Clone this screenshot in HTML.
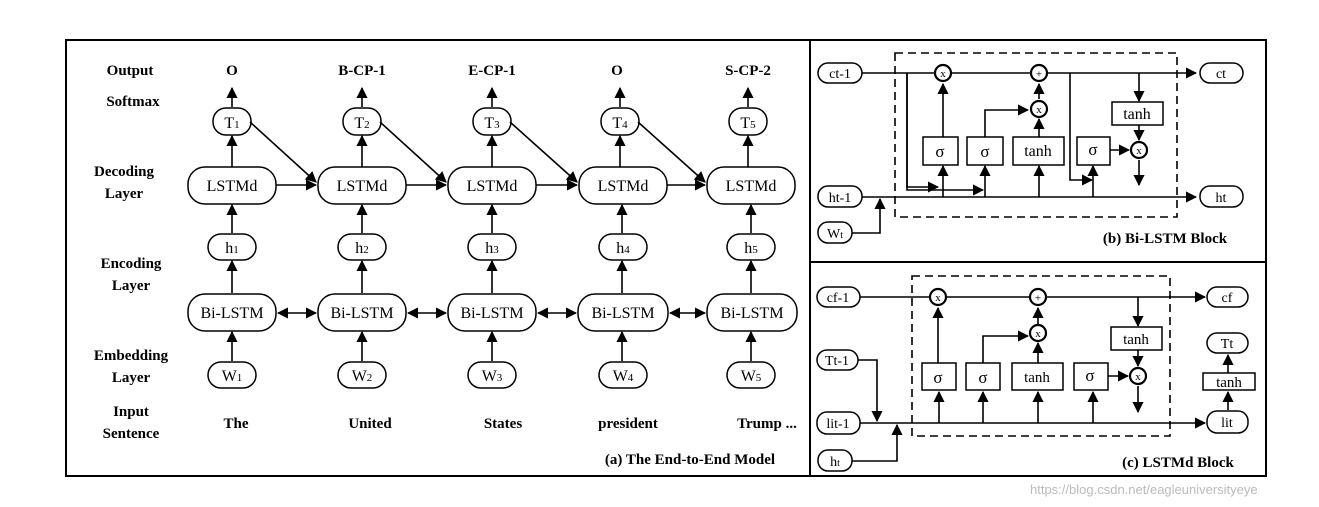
<!DOCTYPE html>
<html><head><meta charset="utf-8"><style>
body{margin:0;background:#fff}
svg{display:block}
text{font-family:"Liberation Serif",serif;fill:#000}
.b{font-weight:bold;font-size:15px}
.n{font-size:16px}
</style></head><body>
<svg width="1319" height="507" viewBox="0 0 1319 507" xmlns="http://www.w3.org/2000/svg">
<defs><marker id="a" viewBox="0 0 10 10" refX="9" refY="5" markerWidth="7" markerHeight="7" orient="auto-start-reverse"><path d="M0,0L10,5L0,10z" fill="#000"/></marker></defs>
<g fill="none" stroke="#000" stroke-width="2">
<rect x="66" y="40" width="744" height="436"/>
<rect x="810" y="40" width="456" height="222"/>
<rect x="810" y="262" width="456" height="214"/>
</g>
<g class="b" text-anchor="middle">
<text x="130" y="75">Output</text>
<text x="133" y="106">Softmax</text>
<text x="124" y="176">Decoding</text><text x="124" y="198">Layer</text>
<text x="131" y="268">Encoding</text><text x="131" y="290">Layer</text>
<text x="131" y="360">Embedding</text><text x="131" y="382">Layer</text>
<text x="131" y="416">Input</text><text x="131" y="438">Sentence</text>
<text x="232" y="75">O</text><text x="362" y="75">B-CP-1</text><text x="492" y="75">E-CP-1</text><text x="617" y="75">O</text><text x="748" y="75">S-CP-2</text>
<text x="236" y="428">The</text><text x="370" y="428">United</text><text x="503" y="428">States</text><text x="628" y="428">president</text><text x="767" y="428">Trump ...</text>
<text x="690" y="464">(a) The End-to-End Model</text>
<text x="1165" y="243">(b) Bi-LSTM Block</text>
<text x="1178" y="467">(c) LSTMd Block</text>
</g>
<!-- panel a shapes -->
<g fill="#fff" stroke="#000" stroke-width="1.5">
<rect x="213" y="108" width="38" height="27" rx="13"/><rect x="343" y="108" width="38" height="27" rx="13"/><rect x="473" y="108" width="38" height="27" rx="13"/><rect x="601" y="108" width="38" height="27" rx="13"/><rect x="729" y="108" width="38" height="27" rx="13"/>
<rect x="188" y="167" width="88" height="37" rx="17"/><rect x="318" y="167" width="88" height="37" rx="17"/><rect x="448" y="167" width="88" height="37" rx="17"/><rect x="579" y="167" width="88" height="37" rx="17"/><rect x="707" y="167" width="88" height="37" rx="17"/>
<rect x="208" y="234" width="48" height="26" rx="13"/><rect x="338" y="234" width="48" height="26" rx="13"/><rect x="468" y="234" width="48" height="26" rx="13"/><rect x="599" y="234" width="48" height="26" rx="13"/><rect x="727" y="234" width="48" height="26" rx="13"/>
<rect x="188" y="294" width="88" height="37" rx="17"/><rect x="318" y="294" width="88" height="37" rx="17"/><rect x="448" y="294" width="88" height="37" rx="17"/><rect x="578" y="294" width="90" height="37" rx="17"/><rect x="707" y="294" width="90" height="37" rx="17"/>
<rect x="208" y="362" width="48" height="26" rx="13"/><rect x="338" y="362" width="48" height="26" rx="13"/><rect x="468" y="362" width="48" height="26" rx="13"/><rect x="599" y="362" width="48" height="26" rx="13"/><rect x="727" y="362" width="48" height="26" rx="13"/>
</g>
<g stroke="#000" stroke-width="1.6" marker-end="url(#a)" fill="none">
<path d="M232 107V88"/><path d="M362 107V88"/><path d="M492 107V88"/><path d="M620 107V88"/><path d="M748 107V88"/>
<path d="M232 167V136"/><path d="M362 167V136"/><path d="M492 167V136"/><path d="M620 167V136"/><path d="M748 167V136"/>
<path d="M232 233V205"/><path d="M362 233V205"/><path d="M492 233V205"/><path d="M622 233V205"/><path d="M751 233V205"/>
<path d="M232 293V261"/><path d="M362 293V261"/><path d="M492 293V261"/><path d="M622 293V261"/><path d="M751 293V261"/>
<path d="M232 361V332"/><path d="M362 361V332"/><path d="M492 361V332"/><path d="M622 361V332"/><path d="M751 361V332"/>
<path d="M276 185H316"/><path d="M406 185H446"/><path d="M536 185H577"/><path d="M667 185H705"/>
<path d="M250 122L316 182"/><path d="M380 122L446 182"/><path d="M510 122L577 182"/><path d="M638 122L705 182"/>
<path d="M278 313H316" marker-start="url(#a)"/><path d="M408 313H446" marker-start="url(#a)"/><path d="M538 313H576" marker-start="url(#a)"/><path d="M670 313H705" marker-start="url(#a)"/>
</g>
<g class="n" text-anchor="middle">
<text x="232" y="128">T<tspan font-size="11">1</tspan></text><text x="362" y="128">T<tspan font-size="11">2</tspan></text><text x="492" y="128">T<tspan font-size="11">3</tspan></text><text x="620" y="128">T<tspan font-size="11">4</tspan></text><text x="748" y="128">T<tspan font-size="11">5</tspan></text>
<text x="232" y="191">LSTMd</text><text x="362" y="191">LSTMd</text><text x="492" y="191">LSTMd</text><text x="623" y="191">LSTMd</text><text x="751" y="191">LSTMd</text>
<text x="232" y="253">h<tspan font-size="11">1</tspan></text><text x="362" y="253">h<tspan font-size="11">2</tspan></text><text x="492" y="253">h<tspan font-size="11">3</tspan></text><text x="623" y="253">h<tspan font-size="11">4</tspan></text><text x="751" y="253">h<tspan font-size="11">5</tspan></text>
<text x="232" y="318">Bi-LSTM</text><text x="362" y="318">Bi-LSTM</text><text x="492" y="318">Bi-LSTM</text><text x="623" y="318">Bi-LSTM</text><text x="752" y="318">Bi-LSTM</text>
<text x="232" y="381">W<tspan font-size="11">1</tspan></text><text x="362" y="381">W<tspan font-size="11">2</tspan></text><text x="492" y="381">W<tspan font-size="11">3</tspan></text><text x="623" y="381">W<tspan font-size="11">4</tspan></text><text x="751" y="381">W<tspan font-size="11">5</tspan></text>
</g>

<!-- panel b -->
<rect x="895" y="53" width="282" height="164" fill="none" stroke="#000" stroke-width="1.6" stroke-dasharray="8,5"/>
<g fill="#fff" stroke="#000" stroke-width="1.5">
<rect x="818" y="63" width="44" height="20" rx="10"/><rect x="1200" y="63" width="43" height="20" rx="10"/>
<rect x="818" y="186" width="44" height="21" rx="10"/><rect x="1200" y="186" width="43" height="21" rx="10"/>
<rect x="818" y="222" width="34" height="21" rx="10"/>
<rect x="923" y="137" width="35" height="28"/><rect x="967" y="137" width="36" height="28"/><rect x="1013" y="137" width="51" height="28"/><rect x="1077" y="137" width="33" height="28"/><rect x="1112" y="102" width="51" height="23"/>
</g>
<g stroke="#000" stroke-width="1.6" fill="none" marker-end="url(#a)">
<path d="M862 73H1196"/>
<path d="M862 197H1196"/>
<path d="M852 233H880V199"/>
<path d="M907 73V187H938"/>
<path d="M907 73V190H983"/>
<path d="M1070 73V180H1092"/>
<path d="M943 137V84"/><path d="M943 197V166"/><path d="M985 197V166"/><path d="M1039 197V166"/><path d="M1093 197V166"/>
<path d="M985 137V110H1028"/>
<path d="M1039 137V119"/><path d="M1039 99V84"/><path d="M1110 150H1129"/><path d="M1139 73V101"/><path d="M1139 125V140"/><path d="M1139 160V185"/>
</g>
<g fill="#fff" stroke="#000" stroke-width="2.2"><circle cx="943" cy="73" r="8"/><circle cx="1039" cy="73" r="8"/><circle cx="1039" cy="109" r="8"/><circle cx="1139" cy="150" r="8"/></g>
<g font-size="11" text-anchor="middle"><text x="943" y="77">x</text><text x="1039" y="77.5">+</text><text x="1039" y="113">x</text><text x="1139" y="154">x</text></g>
<g class="n" text-anchor="middle" font-size="15">
<text x="840" y="78" font-size="14">ct-1</text><text x="1221" y="78" font-size="14">ct</text><text x="840" y="202" font-size="14">ht-1</text><text x="1221" y="202" font-size="14">ht</text><text x="835" y="238" font-size="14">W<tspan font-size="10">t</tspan></text>
<text x="940" y="157" font-size="17">σ</text><text x="985" y="157" font-size="17">σ</text><text x="1038" y="156">tanh</text><text x="1093" y="155" font-size="17">σ</text><text x="1137" y="119">tanh</text>
</g>

<!-- panel c -->
<rect x="912" y="276" width="258" height="160" fill="none" stroke="#000" stroke-width="1.6" stroke-dasharray="8,5"/>
<g fill="#fff" stroke="#000" stroke-width="1.5">
<rect x="817" y="287" width="43" height="20" rx="10"/><rect x="1207" y="287" width="41" height="20" rx="10"/>
<rect x="817" y="350" width="41" height="20" rx="10"/>
<rect x="817" y="412" width="43" height="22" rx="10"/><rect x="1207" y="411" width="41" height="22" rx="10"/>
<rect x="818" y="450" width="34" height="21" rx="10"/>
<rect x="1207" y="333" width="41" height="20" rx="10"/>
<rect x="1203" y="373" width="52" height="17"/>
<rect x="922" y="363" width="34" height="27"/><rect x="966" y="363" width="34" height="27"/><rect x="1012" y="363" width="51" height="27"/><rect x="1074" y="363" width="34" height="27"/><rect x="1111" y="327" width="51" height="23"/>
</g>
<g stroke="#000" stroke-width="1.6" fill="none" marker-end="url(#a)">
<path d="M860 297H1205"/>
<path d="M860 423H1205"/>
<path d="M858 360H877V421"/>
<path d="M852 461H897V425"/>
<path d="M938 363V308"/><path d="M939 423V392"/><path d="M983 423V392"/><path d="M1038 423V392"/><path d="M1093 423V392"/>
<path d="M983 363V336H1028"/>
<path d="M1038 363V343"/><path d="M1038 325V308"/><path d="M1108 376H1128"/><path d="M1138 297V326"/><path d="M1138 350V366"/><path d="M1138 386V412"/>
<path d="M1228 410V392"/><path d="M1228 373V355"/>
</g>
<g fill="#fff" stroke="#000" stroke-width="2.2"><circle cx="938" cy="297" r="8"/><circle cx="1038" cy="297" r="8"/><circle cx="1038" cy="333" r="8"/><circle cx="1138" cy="376" r="8"/></g>
<g font-size="11" text-anchor="middle"><text x="938" y="301">x</text><text x="1038" y="301.5" fill="#c00">+</text><text x="1038" y="337">x</text><text x="1138" y="380">x</text></g>
<g text-anchor="middle" font-size="14">
<text x="838" y="302">cf-1</text><text x="1227" y="302">cf</text><text x="837" y="365">Tt-1</text><text x="838" y="428">lit-1</text><text x="1227" y="427">lit</text><text x="835" y="466">h<tspan font-size="10">t</tspan></text><text x="1227" y="348">Tt</text>
<text x="1229" y="387" font-size="15">tanh</text>
<text x="938" y="383" font-size="17">σ</text><text x="983" y="383" font-size="17">σ</text><text x="1037" y="382" font-size="15">tanh</text><text x="1090" y="381" font-size="17">σ</text><text x="1136" y="344" font-size="15">tanh</text>
</g>
<text x="1030" y="494" font-size="13" style="fill:#bbb;font-family:'Liberation Sans',sans-serif">https://blog.csdn.net/eagleuniversityeye</text>
</svg>
</body></html>
